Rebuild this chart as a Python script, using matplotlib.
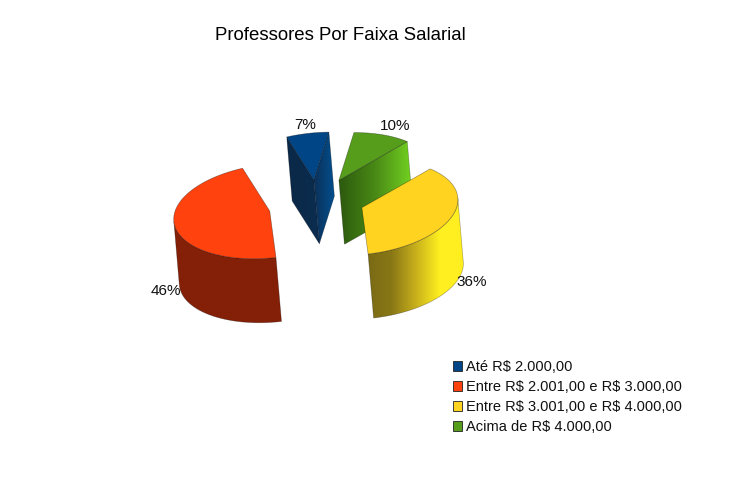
import numpy as np
import matplotlib
matplotlib.use('Agg')
import matplotlib.pyplot as plt
from matplotlib.patches import Polygon, Patch
from matplotlib.colors import LinearSegmentedColormap

plt.rcParams['font.family'] = ['Liberation Sans', 'DejaVu Sans']

title = 'Professores Por Faixa Salarial'
labels = ['Até R\\$ 2.000,00', 'Entre R\\$ 2.001,00 e R\\$ 3.000,00',
          'Entre R\\$ 3.001,00 e R\\$ 4.000,00', 'Acima de R\\$ 4.000,00']
values = [7, 46, 36, 10]
colors = ['#004586', '#ff420e', '#ffd320', '#579d1c']
pct_pos = [(305, 125), (166, 291), (472, 282), (395, 126)]

# pie geometry, in pixels
x0, y0 = 317, 203
rx, ry, shear = 96, 47, 8
explode = 0.5
dx, dy = 5.5, 64
start = 81


def project(r, theta, cx, cy):
    t = np.radians(theta)
    x = cx + r * rx * np.cos(t)
    y = cy - r * (ry * np.sin(t) + shear * np.cos(t))
    return np.column_stack([x, y])


def shaded(ax, pts, stops):
    # polygon filled with a gradient across its bounding box
    poly = Polygon(pts, closed=True, facecolor='none', edgecolor='none')
    ax.add_patch(poly)
    cmap = LinearSegmentedColormap.from_list('g', stops)
    xa, xb = pts[:, 0].min(), pts[:, 0].max()
    ya, yb = pts[:, 1].min(), pts[:, 1].max()
    grad = np.linspace(0, 1, 256).reshape(1, -1)
    im = ax.imshow(grad, extent=(xa, xb, yb, ya), cmap=cmap, aspect='auto',
                   zorder=poly.get_zorder(), interpolation='bilinear')
    im.set_clip_path(poly)
    ax.add_patch(Polygon(pts, closed=True, fill=False, edgecolor='#00000050', linewidth=0.5))


def outer_wall(ax, a, b, cx, cy, stops):
    th = np.linspace(a, b, 200)
    t = np.radians(th)
    tx = -rx * np.sin(t)
    ty = -ry * np.cos(t) + shear * np.sin(t)
    front = tx * dy - ty * dx > 0
    arc = project(1, th[front], cx, cy)
    pts = np.vstack([arc, arc[::-1] + [dx, dy]])
    shaded(ax, pts, stops)


fig = plt.figure(figsize=(7.3, 4.9), dpi=100)
ax = fig.add_axes([0, 0, 1, 1])

# slice angles, counter clockwise from the start angle
spans = np.array(values) / sum(values) * 360
a1 = start + np.concatenate([[0], np.cumsum(spans)[:-1]])
a2 = a1 + spans
mid = (a1 + a2) / 2
centers = [project(explode, m, x0, y0)[0] for m in mid]


def radial_wall(angle, c, stops):
    p = project(1, np.array([angle]), c[0], c[1])[0]
    pts = np.array([c, p, p + [dx, dy], c + [dx, dy]])
    shaded(ax, pts, stops)


def top_face(i):
    c = centers[i]
    arc = project(1, np.linspace(a1[i], a2[i], 120), c[0], c[1])
    ax.add_patch(Polygon(np.vstack([c, arc]), closed=True, facecolor=colors[i],
                         edgecolor='#00000060', linewidth=0.5))


# blue
radial_wall(a2[0], centers[0], ['#0a2847', '#0c2d50'])
radial_wall(a1[0], centers[0], ['#0c3058', '#02508f'])
top_face(0)
# green
radial_wall(a1[3], centers[3], ['#2c5a0e', '#4a8a16', '#74d422'])
top_face(3)
# orange
outer_wall(ax, a1[1], a2[1], centers[1][0], centers[1][1], ['#832007', '#832007'])
top_face(1)
# yellow
outer_wall(ax, a1[2], a2[2], centers[2][0], centers[2][1], ['#7a6a14', '#8a7816', '#c8b01c', '#fff020', '#ffee20'])
top_face(2)

for v, p in zip(values, pct_pos):
    ax.text(p[0], p[1], '%d%%' % v, fontsize=11, color='#111111', ha='center', va='center', zorder=10)

ax.text(340.5, 35, title, fontsize=13.4, color='black', ha='center', va='center')

handles = [Patch(facecolor=c, edgecolor='#222222', linewidth=0.6) for c in colors]
ax.legend(handles, labels, loc='upper left', bbox_to_anchor=(450, 357), bbox_transform=ax.transData,
          frameon=False, fontsize=10.5, handlelength=0.65, handleheight=0.65, handletextpad=0.27,
          labelspacing=0.42, borderpad=0.2, borderaxespad=0, labelcolor='#111111')

ax.set_xlim(0, 730)
ax.set_ylim(490, 0)
ax.axis('off')
fig.savefig('out.png', dpi=100, facecolor='white')
